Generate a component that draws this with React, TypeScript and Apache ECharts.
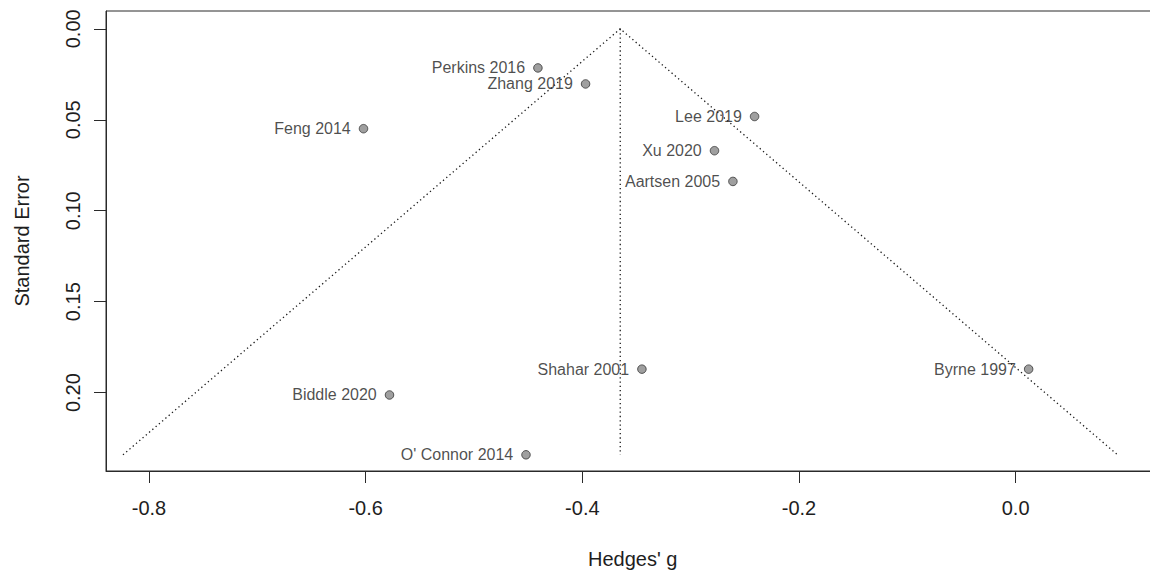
import React, { useEffect, useRef } from "react";
import * as echarts from "echarts";

const studies = [
  "Perkins 2016",
  "Zhang 2019",
  "Lee 2019",
  "Feng 2014",
  "Xu 2020",
  "Aartsen 2005",
  "Shahar 2001",
  "Byrne 1997",
  "Biddle 2020",
  "O' Connor 2014",
];
const hedgesG = [-0.441, -0.397, -0.241, -0.602, -0.278, -0.261, -0.345, 0.012, -0.578, -0.452];
const standardError = [0.0215, 0.0303, 0.0482, 0.0549, 0.067, 0.0839, 0.1871, 0.1871, 0.2013, 0.2342];
const pooledEstimate = -0.365;
const zCrit = 1.96;
const xTicks = [-0.8, -0.6, -0.4, -0.2, 0.0];
const yTicks = [0.0, 0.05, 0.1, 0.15, 0.2];

const FONT = "'Liberation Sans', Arial, Helvetica, sans-serif";
const TEXT = "#1e1e1e";
const LINE = "#2a2a2a";

export default function App() {
  const ref = useRef<HTMLDivElement>(null);

  useEffect(() => {
    if (!ref.current) return;
    const chart = echarts.init(ref.current, undefined, { renderer: "svg" });
    const seMax = Math.max(...standardError);
    const funnel = [
      [pooledEstimate - zCrit * seMax, seMax],
      [pooledEstimate, 0],
      [pooledEstimate + zCrit * seMax, seMax],
    ];
    const centre = [
      [pooledEstimate, 0],
      [pooledEstimate, seMax],
    ];
    const points = studies.map((name, i) => ({ name, value: [hedgesG[i], standardError[i]] }));

    chart.setOption({
      animation: false,
      backgroundColor: "#ffffff",
      grid: {
        left: 106,
        top: 11,
        right: 0.6,
        bottom: 101,
        show: true,
        borderColor: LINE,
        borderWidth: 1,
        containLabel: false,
      },
      xAxis: {
        type: "value",
        min: -0.8397,
        max: 0.1327,
        name: "Hedges' g",
        nameLocation: "middle",
        nameGap: 78,
        nameTextStyle: { fontFamily: FONT, fontSize: 20, color: TEXT },
        splitLine: { show: false },
        axisLine: { show: true, onZero: false, lineStyle: { color: LINE, width: 1 } },
        axisTick: {
          show: true,
          length: 12,
          customValues: xTicks,
          lineStyle: { color: LINE, width: 1 },
        },
        axisLabel: {
          customValues: xTicks,
          margin: 27,
          fontFamily: FONT,
          fontSize: 20,
          color: TEXT,
          formatter: (v: number) => v.toFixed(1),
        },
      },
      yAxis: {
        type: "value",
        inverse: true,
        min: -0.0098,
        max: 0.2431,
        name: "Standard Error",
        nameLocation: "middle",
        nameRotate: 90,
        nameGap: 74,
        nameTextStyle: { fontFamily: FONT, fontSize: 20, color: TEXT },
        splitLine: { show: false },
        axisLine: { show: true, onZero: false, lineStyle: { color: LINE, width: 1 } },
        axisTick: {
          show: true,
          length: 12,
          customValues: yTicks,
          lineStyle: { color: LINE, width: 1 },
        },
        axisLabel: {
          customValues: yTicks,
          rotate: 90,
          margin: 23,
          fontFamily: FONT,
          fontSize: 20,
          color: TEXT,
          formatter: (v: number) => v.toFixed(2),
        },
      },
      series: [
        {
          type: "line",
          data: funnel,
          symbol: "none",
          lineStyle: { color: "#1a1a1a", width: 1.3, type: [1.3, 3] },
          silent: true,
          z: 1,
        },
        {
          type: "line",
          data: centre,
          symbol: "none",
          lineStyle: { color: "#1a1a1a", width: 1.3, type: [1.3, 3] },
          silent: true,
          z: 1,
        },
        {
          type: "scatter",
          data: points,
          symbol: "circle",
          symbolSize: 8.5,
          itemStyle: { color: "#878787", borderColor: "#333", borderWidth: 1 },
          label: {
            show: true,
            position: "left",
            distance: 8,
            formatter: (p: any) => p.name,
            fontFamily: FONT,
            fontSize: 16,
            color: TEXT,
          },
          z: 3,
        },
      ],
    });
    return () => chart.dispose();
  }, []);

  return (
    <div
      style={{
        position: "fixed",
        left: 0,
        top: 0,
        width: 1150,
        height: 574,
        overflow: "hidden",
        background: "#fff",
      }}
    >
      <div ref={ref} style={{ width: 1160, height: 574 }} />
    </div>
  );
}
